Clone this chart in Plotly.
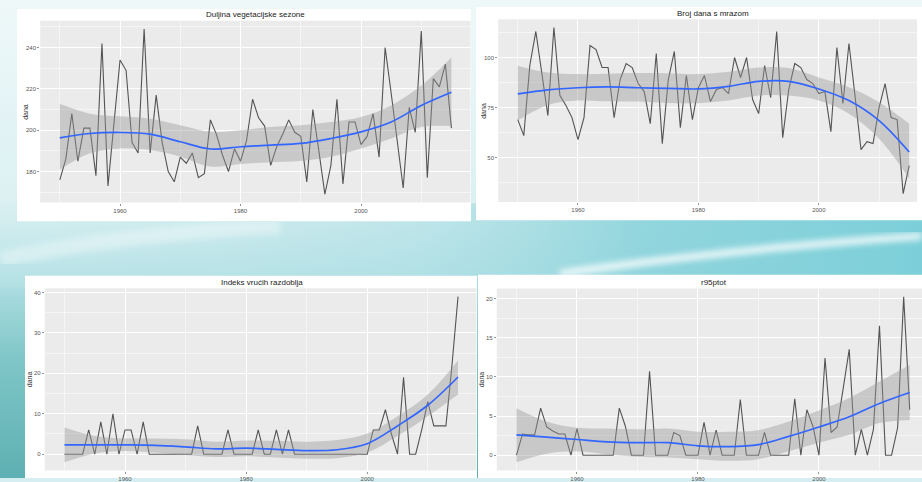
import base64
import plotly.graph_objects as go

W, H = 922, 482

years = list(range(1950, 2016))
smooth_years = list(range(1950, 2016, 5))

titles = ["Duljina vegetacijske sezone", "Broj dana s mrazom", "Indeks vrućih razdoblja", "r95ptot"]
y_label = "dana"
x_ticks = [1960, 1980, 2000]

veg_season = [176, 186, 208, 185, 201, 201, 178, 242, 173, 204,
              234, 229, 194, 189, 249, 189, 217, 194, 180, 175,
              187, 184, 189, 177, 179, 205, 198, 188, 180, 191,
              185, 195, 215, 206, 202, 183, 192, 198, 205, 199,
              197, 175, 210, 190, 169, 183, 215, 174, 204, 204,
              193, 197, 208, 187, 240, 218, 195, 172, 211, 199,
              248, 177, 225, 221, 232, 201]
veg_smooth = [196.3, 198.4, 198.9, 198.1, 194.4, 190.9, 192.0, 192.8, 193.6, 196.0, 199.2, 204.0, 212.0, 218.4]
veg_upper = [212.8, 208.0, 206.7, 205.6, 202.4, 199.2, 200.0, 201.6, 202.4, 204.0, 206.4, 212.0, 221.6, 235.2]
veg_lower = [180.8, 188.8, 191.2, 190.4, 187.2, 182.4, 183.7, 184.5, 185.1, 187.2, 191.2, 196.0, 201.6, 202.0]

frost_days = [69, 61, 96, 113, 92, 71, 115, 81, 76, 70,
              59, 70, 106, 104, 95, 95, 70, 89, 97, 95,
              87, 83, 67, 102, 57, 89, 103, 65, 91, 69,
              85, 91, 78, 84, 85, 82, 100, 90, 100, 79,
              72, 96, 80, 113, 60, 84, 97, 95, 89, 87,
              82, 83, 63, 105, 77, 107, 81, 54, 58, 57,
              75, 87, 70, 69, 32, 46]
frost_smooth = [81.8, 83.8, 84.9, 85.3, 84.9, 84.6, 84.3, 85.6, 88.1, 88.1, 84.3, 78.5, 68.5, 52.8]
frost_upper = [95.9, 92.5, 91.7, 91.9, 92.2, 92.1, 91.7, 92.9, 95.0, 94.7, 90.0, 85.1, 77.6, 66.9]
frost_lower = [68.5, 76.3, 78.5, 78.1, 78.0, 77.3, 77.2, 78.5, 81.0, 81.0, 78.5, 71.9, 59.4, 39.6]

hot_index = [0, 0, 0, 0, 6, 0, 8, 0, 10, 0,
             6, 6, 0, 8, 0, 0, 0, 0, 0, 0,
             0, 0, 7, 0, 0, 0, 0, 6, 0, 0,
             0, 0, 6, 0, 0, 6, 0, 6, 0, 0,
             0, 0, 0, 0, 0, 0, 0, 0, 0, 0,
             0, 6, 6, 11, 5, 0, 19, 0, 0, 6,
             13, 7, 7, 7, 22, 39]
hot_smooth = [2.3, 2.3, 2.3, 2.2, 1.8, 1.3, 1.5, 1.2, 0.9, 1.1, 2.6, 7.0, 12.1, 19.1]
hot_upper = [6.6, 4.5, 3.9, 3.9, 3.7, 3.1, 3.4, 3.3, 3.1, 3.5, 5.1, 9.4, 14.8, 23.2]
hot_lower = [-2.0, 0.2, 0.8, 0.4, -0.2, -0.7, -0.5, -0.8, -1.1, -1.0, 0.4, 4.5, 9.4, 14.8]

r95 = [0, 2.7, 2.6, 2.6, 6.0, 3.6, 3.1, 2.7, 2.7, 0,
       3.4, 0, 0, 0, 0, 0, 0, 6.0, 3.7, 0,
       0, 0, 10.7, 0, 0, 0, 2.9, 2.5, 0, 0,
       0, 4.2, 0, 3.2, 0, 0, 0, 7.1, 0, 0,
       0, 2.9, 0, 0, 0, 0, 7.2, 0, 5.8, 3.7,
       0, 12.4, 2.9, 3.6, 8.5, 13.5, 0, 3.3, 0, 3.3,
       16.5, 0, 0, 3.5, 20.2, 5.8]
r95_smooth = [2.6, 2.3, 2.0, 1.7, 1.6, 1.6, 1.2, 1.1, 1.35, 2.4, 3.6, 4.9, 6.6, 8.0]
r95_upper = [6.0, 4.3, 3.5, 3.4, 3.3, 3.4, 3.0, 3.0, 3.2, 4.3, 5.7, 7.3, 9.4, 11.5]
r95_lower = [-0.9, 0.2, 0.5, 0.1, -0.2, -0.3, -0.5, -0.7, -0.5, 0.5, 1.6, 2.6, 4.1, 4.5]

series = [veg_season, frost_days, hot_index, r95]
smooths = [veg_smooth, frost_smooth, hot_smooth, r95_smooth]
uppers = [veg_upper, frost_upper, hot_upper, r95_upper]
lowers = [veg_lower, frost_lower, hot_lower, r95_lower]

# layout (pixels): panel x px, x range, panel y px, y range, y ticks
panels = [
    dict(xpx=(40.2, 470.5), xr=(1946.75, 2018.17), ypx=(20.9, 204.2), yr=(165, 253), dt=20, card=(17, 9, 471, 223), title=(255, 15)),
    dict(xpx=(498.2, 917.0), xr=(1946.75, 2016.3), ypx=(19.3, 203.7), yr=(27.85, 119.15), dt=25, card=(476, 7, 922, 222), title=(713, 14)),
    dict(xpx=(44.8, 476.5), xr=(1946.75, 2018.05), ypx=(290.7, 474.5), yr=(-4.05, 41.05), dt=10, card=(25, 278, 477, 482), title=(262, 285)),
    dict(xpx=(496.8, 922.0), xr=(1946.75, 2017.03), ypx=(291.0, 474.5), yr=(-1.96, 21.26), dt=5, card=(478, 277, 922, 482), title=(714, 285)),
]

def fx(px):
    return px / W

def fy(py):
    return 1 - py / H

svg = """<svg xmlns='http://www.w3.org/2000/svg' width='922' height='482' viewBox='0 0 922 482' preserveAspectRatio='none'>
<defs>
<linearGradient id='a' x1='0' y1='0' x2='0' y2='1'>
<stop offset='0' stop-color='#eef8f9'/>
<stop offset='0.44' stop-color='#dbf0f2'/>
<stop offset='0.56' stop-color='#b8e3e7'/>
<stop offset='0.75' stop-color='#7fc6c8'/>
<stop offset='1' stop-color='#5eb0b2'/>
</linearGradient>
<linearGradient id='b' x1='0' y1='0' x2='1' y2='0'>
<stop offset='0' stop-color='#cbe9ec' stop-opacity='0.2'/>
<stop offset='0.45' stop-color='#b0e0e5' stop-opacity='0.6'/>
<stop offset='0.7' stop-color='#8ed4dc' stop-opacity='0.95'/>
<stop offset='1' stop-color='#7ccfd9' stop-opacity='1'/>
</linearGradient>
<filter id='f'><feGaussianBlur stdDeviation='3'/></filter>
</defs>
<rect width='922' height='482' fill='url(#a)'/>
<rect y='205' width='922' height='85' fill='url(#b)'/>
<path d='M 0 262 Q 120 236 280 228' stroke='white' stroke-width='16' fill='none' opacity='0.35' filter='url(#f)'/>
<path d='M 560 276 Q 720 252 922 238' stroke='white' stroke-width='7' fill='none' opacity='0.85' filter='url(#f)'/>
</svg>"""
bg_src = "data:image/svg+xml;base64," + base64.b64encode(svg.encode()).decode()

fig = go.Figure()
shapes = []
annotations = []
layout = {}

for i, p in enumerate(panels):
    n = i + 1
    xa = "x" if n == 1 else f"x{n}"
    ya = "y" if n == 1 else f"y{n}"
    xk = "xaxis" if n == 1 else f"xaxis{n}"
    yk = "yaxis" if n == 1 else f"yaxis{n}"

    # white card and gray panel
    cx0, cy0, cx1, cy1 = p["card"]
    shapes.append(dict(type="rect", xref="paper", yref="paper", layer="below",
                       x0=fx(cx0), x1=fx(cx1), y0=fy(cy1), y1=fy(cy0),
                       fillcolor="white", line=dict(width=0)))
    shapes.append(dict(type="rect", xref="paper", yref="paper", layer="below",
                       x0=fx(p["xpx"][0]), x1=fx(p["xpx"][1]), y0=fy(p["ypx"][1]), y1=fy(p["ypx"][0]),
                       fillcolor="#EBEBEB", line=dict(width=0)))

    fig.add_trace(go.Scatter(x=years, y=series[i], xaxis=xa, yaxis=ya, mode="lines",
                             line=dict(color="rgba(45,45,45,0.8)", width=1.1), hoverinfo="skip", showlegend=False))
    fig.add_trace(go.Scatter(x=smooth_years, y=lowers[i], xaxis=xa, yaxis=ya, mode="lines",
                             line=dict(width=0, shape="spline", smoothing=1.0), hoverinfo="skip", showlegend=False))
    fig.add_trace(go.Scatter(x=smooth_years, y=uppers[i], xaxis=xa, yaxis=ya, mode="lines",
                             line=dict(width=0, shape="spline", smoothing=1.0), fill="tonexty",
                             fillcolor="rgba(153,153,153,0.42)", hoverinfo="skip", showlegend=False))
    fig.add_trace(go.Scatter(x=smooth_years, y=smooths[i], xaxis=xa, yaxis=ya, mode="lines",
                             line=dict(color="#3366FF", width=1.7, shape="spline", smoothing=1.0),
                             hoverinfo="skip", showlegend=False))

    layout[xk] = dict(domain=[fx(p["xpx"][0]), fx(p["xpx"][1])], range=list(p["xr"]), anchor=ya,
                      tickmode="array", tickvals=x_ticks, ticktext=[str(t) for t in x_ticks],
                      showgrid=True, gridcolor="white", gridwidth=1,
                      minor=dict(tickmode="linear", tick0=1950, dtick=10, showgrid=True, gridcolor="white", gridwidth=0.5),
                      ticks="outside", ticklen=2, tickwidth=0.7, tickcolor="#666",
                      tickfont=dict(family="Liberation Sans, Arial", size=6, color="#555"),
                      zeroline=False, showline=False, fixedrange=True)
    layout[yk] = dict(domain=[fy(p["ypx"][1]), fy(p["ypx"][0])], range=list(p["yr"]), anchor=xa,
                      tickmode="linear", tick0=0, dtick=p["dt"],
                      showgrid=True, gridcolor="white", gridwidth=1,
                      minor=dict(tickmode="linear", tick0=0, dtick=p["dt"] / 2, showgrid=True, gridcolor="white", gridwidth=0.5),
                      ticks="outside", ticklen=2, tickwidth=0.7, tickcolor="#666",
                      tickfont=dict(family="Liberation Sans, Arial", size=6, color="#555"),
                      zeroline=False, showline=False, fixedrange=True)

    tx, ty = p["title"]
    annotations.append(dict(text=titles[i], xref="paper", yref="paper", x=fx(tx), y=fy(ty),
                            xanchor="center", yanchor="middle", showarrow=False,
                            font=dict(family="Liberation Sans, Arial", size=8, color="#222")))
    ymid = (p["ypx"][0] + p["ypx"][1]) / 2
    annotations.append(dict(text=y_label, xref="paper", yref="paper", x=fx(p["xpx"][0] - 15), y=fy(ymid),
                            xanchor="center", yanchor="middle", showarrow=False, textangle=-90,
                            font=dict(family="Liberation Sans, Arial", size=7, color="#333")))

fig.update_layout(
    width=W, height=H, margin=dict(l=0, r=0, t=0, b=0),
    paper_bgcolor="#d6eef1", plot_bgcolor="rgba(0,0,0,0)",
    shapes=shapes, annotations=annotations,
    images=[dict(source=bg_src, xref="paper", yref="paper", x=0, y=1, sizex=1, sizey=1,
                 xanchor="left", yanchor="top", sizing="stretch", layer="below")],
    showlegend=False,
    **layout,
)

fig.write_html("out.html", config=dict(displayModeBar=False, staticPlot=True))
